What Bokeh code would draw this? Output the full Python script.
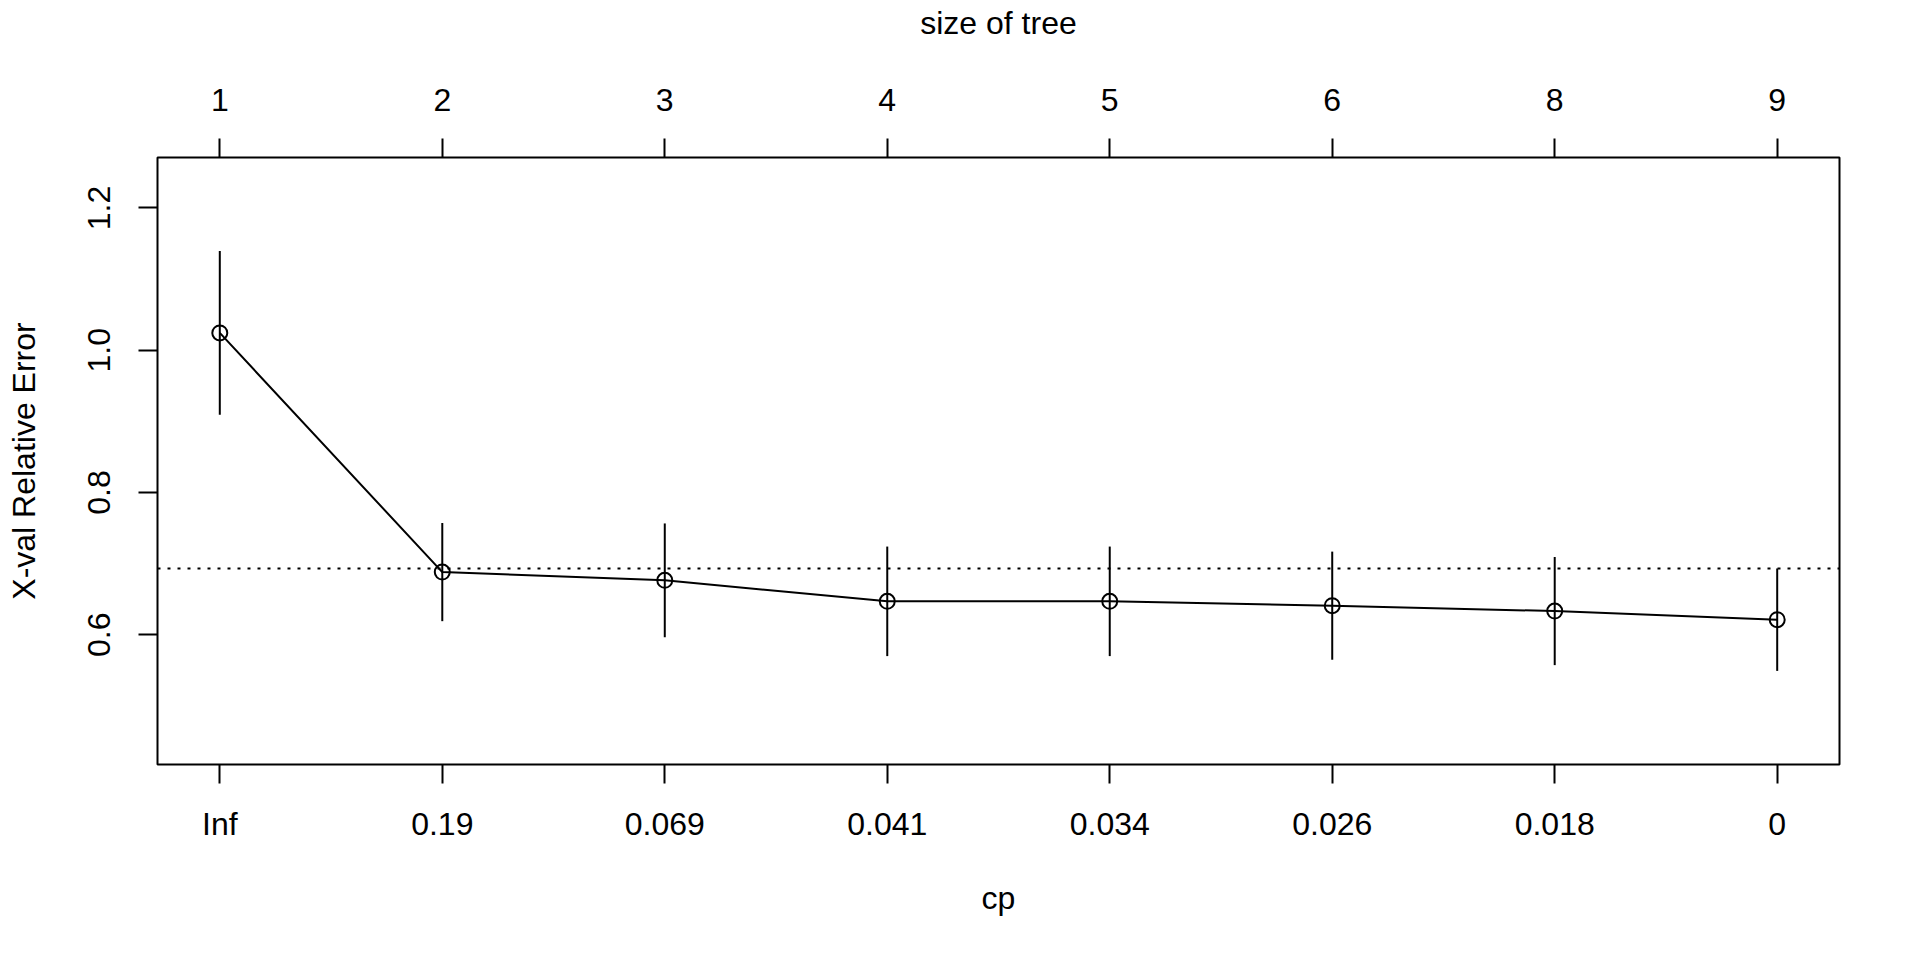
from bokeh.plotting import figure
from bokeh.models import Range1d, LinearAxis, FixedTicker, Span, ColumnDataSource
from bokeh.embed import file_html
from bokeh.resources import INLINE

# ---- data ----
cp_labels = ["Inf", "0.19", "0.069", "0.041", "0.034", "0.026", "0.018", "0"]
size_labels = ["1", "2", "3", "4", "5", "6", "8", "9"]
xerror = [1.0243, 0.6880, 0.6764, 0.6469, 0.6469, 0.6408, 0.6332, 0.6211]
xstd = [0.115, 0.069, 0.080, 0.077, 0.077, 0.076, 0.076, 0.072]
y_ticks = [0.6, 0.8, 1.0, 1.2]
y_tick_labels = ["0.6", "0.8", "1.0", "1.2"]

idx = list(range(1, len(cp_labels) + 1))
upper = [e + s for e, s in zip(xerror, xstd)]
lower = [e - s for e, s in zip(xerror, xstd)]
imin = xerror.index(min(xerror))
threshold = xerror[imin] + xstd[imin]

# R-style ranges (4% expansion)
ylo, yhi = min(lower) - 0.1, max(upper) + 0.1
dy = (yhi - ylo) * 0.04
xlo, xhi = idx[0], idx[-1]
dx = (xhi - xlo) * 0.04

FONT = "Liberation Sans"
FS = "32px"

p = figure(width=1912, height=952, output_backend="svg", toolbar_location=None,
           x_range=Range1d(xlo - dx, xhi + dx), y_range=Range1d(ylo - dy, yhi + dy),
           min_border_left=157, min_border_right=73, min_border_top=157, min_border_bottom=188,
           x_axis_label="cp", y_axis_label="X-val Relative Error")
p.xgrid.visible = False
p.ygrid.visible = False
p.outline_line_color = "black"
p.outline_line_width = 2
p.background_fill_color = "white"
p.border_fill_color = "white"

def style_axis(ax):
    ax.axis_line_color = None
    ax.major_tick_line_color = "black"
    ax.major_tick_line_width = 2
    ax.major_tick_out = 19
    ax.major_tick_in = 0
    ax.minor_tick_line_color = None
    ax.major_label_text_font = FONT
    ax.major_label_text_font_size = FS
    ax.major_label_text_color = "black"
    ax.axis_label_text_font = FONT
    ax.axis_label_text_font_size = FS
    ax.axis_label_text_font_style = "normal"
    ax.axis_label_text_color = "black"

xa = p.xaxis[0]
style_axis(xa)
xa.ticker = FixedTicker(ticks=idx)
xa.major_label_overrides = {i: lab for i, lab in zip(idx, cp_labels)}
xa.major_label_standoff = 22
xa.axis_label_standoff = 35

ya = p.yaxis[0]
style_axis(ya)
ya.ticker = FixedTicker(ticks=y_ticks)
ya.major_label_overrides = {t: lab for t, lab in zip(y_ticks, y_tick_labels)}
ya.major_label_orientation = "vertical"
ya.major_label_standoff = 28
ya.axis_label_standoff = 44

top = LinearAxis(axis_label="size of tree")
style_axis(top)
top.ticker = FixedTicker(ticks=idx)
top.major_label_overrides = {i: lab for i, lab in zip(idx, size_labels)}
top.major_label_standoff = 28
top.axis_label_standoff = 45
p.add_layout(top, "above")

src = ColumnDataSource(dict(x=idx, y=xerror, lo=lower, hi=upper))
p.add_layout(Span(location=threshold, dimension="width", line_color="black",
                  line_width=2, line_dash="3 7"))
p.segment(x0="x", y0="lo", x1="x", y1="hi", source=src, line_color="black", line_width=2)
p.line(x="x", y="y", source=src, line_color="black", line_width=2)
p.scatter(x="x", y="y", source=src, marker="circle", size=15, fill_color=None,
          line_color="black", line_width=2)

open("out.html", "w").write(file_html(p, INLINE))
